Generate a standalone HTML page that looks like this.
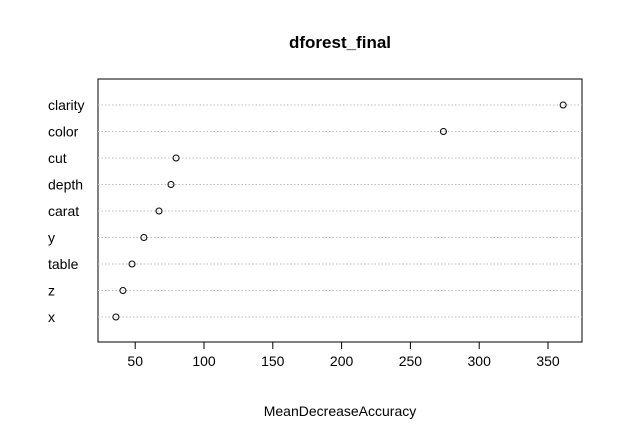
<!DOCTYPE html>
<html><head><meta charset="utf-8"><style>
html,body{margin:0;padding:0;background:#fff;}
svg{display:block;font-family:"Liberation Sans",Arial,sans-serif;}
</style></head><body>
<svg id="chart" width="622" height="441" xmlns="http://www.w3.org/2000/svg">
<text x="340" y="48" text-anchor="middle" font-size="17" font-weight="bold">dforest_final</text>
<rect x="98" y="79" width="484" height="263" fill="none" stroke="#000" stroke-width="1"/>
<text x="340" y="416" text-anchor="middle" font-size="14">MeanDecreaseAccuracy</text>
<g id="rows"></g>
<g id="axis"></g>
</svg>
<script>
const categories = ["clarity","color","cut","depth","carat","y","table","z","x"];
const values = [361, 274, 79.7, 76, 67.3, 56.3, 47.7, 41.1, 36];
const ticks = [50,100,150,200,250,300,350];
const ns = "http://www.w3.org/2000/svg";
const xs = v => 66.4 + v * 1.376;
const ys = i => 105 + i * 26.5;
const rows = document.getElementById('rows');
categories.forEach((c, i) => {
  const y = ys(i);
  const l = document.createElementNS(ns, 'line');
  l.setAttribute('x1', 98); l.setAttribute('x2', 582);
  l.setAttribute('y1', y); l.setAttribute('y2', y);
  l.setAttribute('stroke', '#bebebe'); l.setAttribute('stroke-dasharray', '1.5,2');
  
  
  rows.appendChild(l);
  const t = document.createElementNS(ns, 'text');
  t.setAttribute('x', 48); t.setAttribute('y', y + 5); t.setAttribute('font-size', '14');
  t.textContent = c;
  
  
  rows.appendChild(t);
  const p = document.createElementNS(ns, 'circle');
  p.setAttribute('cx', xs(values[i])); p.setAttribute('cy', y); p.setAttribute('r', 3);
  p.setAttribute('fill', 'none'); p.setAttribute('stroke', '#000');
  
  
  rows.appendChild(p);
});
const ax = document.getElementById('axis');
ticks.forEach(v => {
  const x = xs(v);
  const l = document.createElementNS(ns, 'line');
  l.setAttribute('x1', x); l.setAttribute('x2', x);
  l.setAttribute('y1', 342); l.setAttribute('y2', 349);
  l.setAttribute('stroke', '#000');
  
  
  ax.appendChild(l);
  const t = document.createElementNS(ns, 'text');
  t.setAttribute('x', x); t.setAttribute('y', 366); t.setAttribute('font-size', '14');
  t.setAttribute('text-anchor', 'middle');
  t.textContent = v;
  
  
  ax.appendChild(t);
});
const al = document.createElementNS(ns, 'line');
al.setAttribute('x1', xs(ticks[0])); al.setAttribute('x2', xs(ticks[ticks.length-1]));
al.setAttribute('y1', 342); al.setAttribute('y2', 342); al.setAttribute('stroke', '#000');


ax.appendChild(al);
</script>
</body></html>
